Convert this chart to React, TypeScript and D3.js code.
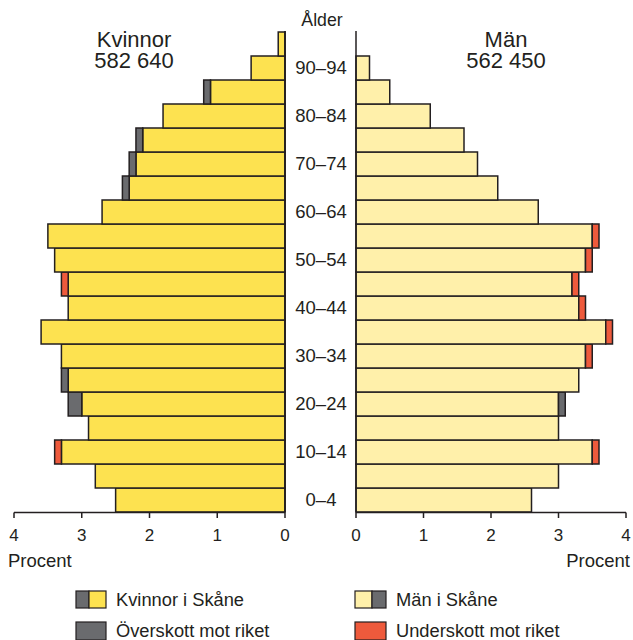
import React from "react";
import * as d3 from "d3";

const ageGroups = ["0–4","5–9","10–14","15–19","20–24","25–29","30–34","35–39","40–44","45–49","50–54","55–59","60–64","65–69","70–74","75–79","80–84","85–89","90–94","95–"];
const ageTickLabels = ["0–4","10–14","20–24","30–34","40–44","50–54","60–64","70–74","80–84","90–94"];
const womenSkane = [2.5,2.8,3.3,2.9,3.2,3.3,3.3,3.6,3.2,3.2,3.4,3.5,2.7,2.4,2.3,2.2,1.8,1.2,0.5,0.1];
const womenRiket = [2.5,2.8,3.4,2.9,3.0,3.2,3.3,3.6,3.2,3.3,3.4,3.5,2.7,2.3,2.2,2.1,1.8,1.1,0.5,0.1];
const menSkane = [2.6,3.0,3.5,3.0,3.1,3.3,3.4,3.7,3.3,3.2,3.4,3.5,2.7,2.1,1.8,1.6,1.1,0.5,0.2,0];
const menRiket = [2.6,3.0,3.6,3.0,3.0,3.3,3.5,3.8,3.4,3.3,3.5,3.6,2.7,2.1,1.8,1.6,1.1,0.5,0.2,0];
const xTicks = [0,1,2,3,4];

const INK = "#231f20";
const WOMEN = "#fde250";
const MEN = "#fff0aa";
const GREY = "#6a6b6e";
const RED = "#ee5a3c";
const FONT = "'Liberation Sans', Arial, Helvetica, sans-serif";

export default function App() {
  const W = 633, H = 640;
  const y = d3.scaleBand<string>().domain([...ageGroups].reverse()).range([32, 512]).padding(0);
  const xL = d3.scaleLinear().domain([0, 4]).range([285, 14]);
  const xR = d3.scaleLinear().domain([0, 4]).range([356, 626]);
  const axisY = 512.5;

  const bars = (skane: number[], riket: number[], xs: d3.ScaleLinear<number, number>, base: string, side: string) =>
    ageGroups.map((a, i) => {
      const s = skane[i], r = riket[i];
      if (!(s > 0)) return null;
      const lo = Math.min(s, r), hi = Math.max(s, r);
      const y0 = y(a)!, h = y.bandwidth();
      const x0 = Math.min(xs(0), xs(lo)), w0 = Math.abs(xs(lo) - xs(0));
      const x1 = Math.min(xs(lo), xs(hi)), w1 = Math.abs(xs(hi) - xs(lo));
      return (
        <g key={side + a}>
          <rect x={x0} y={y0} width={w0} height={h} fill={base} stroke={INK} strokeWidth={1.5} />
          {hi > lo && (
            <rect x={x1} y={y0} width={w1} height={h} fill={s > r ? GREY : RED} stroke={INK} strokeWidth={1.5} />
          )}
        </g>
      );
    });

  return (
    <svg width={W} height={H} style={{ position: "absolute", left: 0, top: 0 }} fontFamily={FONT}>
      <rect x={0} y={0} width={W} height={H} fill="#fff" />
      {bars(womenSkane, womenRiket, xL, WOMEN, "w")}
      {bars(menSkane, menRiket, xR, MEN, "m")}
      {/* vertical axes */}
      <line x1={xL(0)} x2={xL(0)} y1={31} y2={axisY} stroke={INK} strokeWidth={1.8} />
      <line x1={xR(0)} x2={xR(0)} y1={31} y2={axisY} stroke={INK} strokeWidth={1.5} />
      {/* bottom axes */}
      <line x1={xL(4)} x2={xL(0)} y1={axisY} y2={axisY} stroke={INK} strokeWidth={1.5} />
      <line x1={xR(0)} x2={xR(4)} y1={axisY} y2={axisY} stroke={INK} strokeWidth={1.5} />
      {xTicks.map(t => (
        <g key={"tl" + t}>
          <line x1={xL(t)} x2={xL(t)} y1={axisY} y2={518} stroke={INK} strokeWidth={1.5} />
          <text x={xL(t)} y={541} textAnchor="middle" fontSize={17} fill={INK}>{t}</text>
          <line x1={xR(t)} x2={xR(t)} y1={axisY} y2={518} stroke={INK} strokeWidth={1.5} />
          <text x={xR(t)} y={541} textAnchor="middle" fontSize={17} fill={INK}>{t}</text>
        </g>
      ))}
      <text x={8} y={567} fontSize={18.5} fill={INK}>Procent</text>
      <text x={630} y={567} fontSize={18.5} fill={INK} textAnchor="end">Procent</text>
      {/* age labels */}
      {ageTickLabels.map(a => (
        <text key={"a" + a} x={321} y={y(a)! + y.bandwidth() / 2} dy="0.35em" textAnchor="middle" fontSize={18.5} fill={INK}>{a}</text>
      ))}
      <text x={322} y={26} textAnchor="middle" fontSize={17.7} fill={INK}>Ålder</text>
      {/* titles */}
      <text x={134} y={47} textAnchor="middle" fontSize={22} fill={INK}>Kvinnor</text>
      <text x={134} y={68} textAnchor="middle" fontSize={22} fill={INK}>582 640</text>
      <text x={506} y={47} textAnchor="middle" fontSize={22} fill={INK}>Män</text>
      <text x={506} y={68} textAnchor="middle" fontSize={22} fill={INK}>562 450</text>
      {/* legend */}
      <rect x={76} y={591} width={13} height={17} fill={GREY} stroke={INK} strokeWidth={1.2} />
      <rect x={89} y={591} width={17} height={17} fill={WOMEN} stroke={INK} strokeWidth={1.2} />
      <text x={116} y={606} fontSize={18.3} fill={INK}>Kvinnor i Skåne</text>
      <rect x={76} y={622} width={30} height={18} fill={GREY} stroke={INK} strokeWidth={1.2} />
      <text x={116} y={637} fontSize={18.3} fill={INK}>Överskott mot riket</text>
      <rect x={355} y={591} width={17} height={17} fill={MEN} stroke={INK} strokeWidth={1.2} />
      <rect x={372} y={591} width={14} height={17} fill={GREY} stroke={INK} strokeWidth={1.2} />
      <text x={396} y={606} fontSize={18.3} fill={INK}>Män i Skåne</text>
      <rect x={355} y={622} width={31} height={18} fill={RED} stroke={INK} strokeWidth={1.2} />
      <text x={396} y={637} fontSize={18.3} fill={INK}>Underskott mot riket</text>
    </svg>
  );
}
